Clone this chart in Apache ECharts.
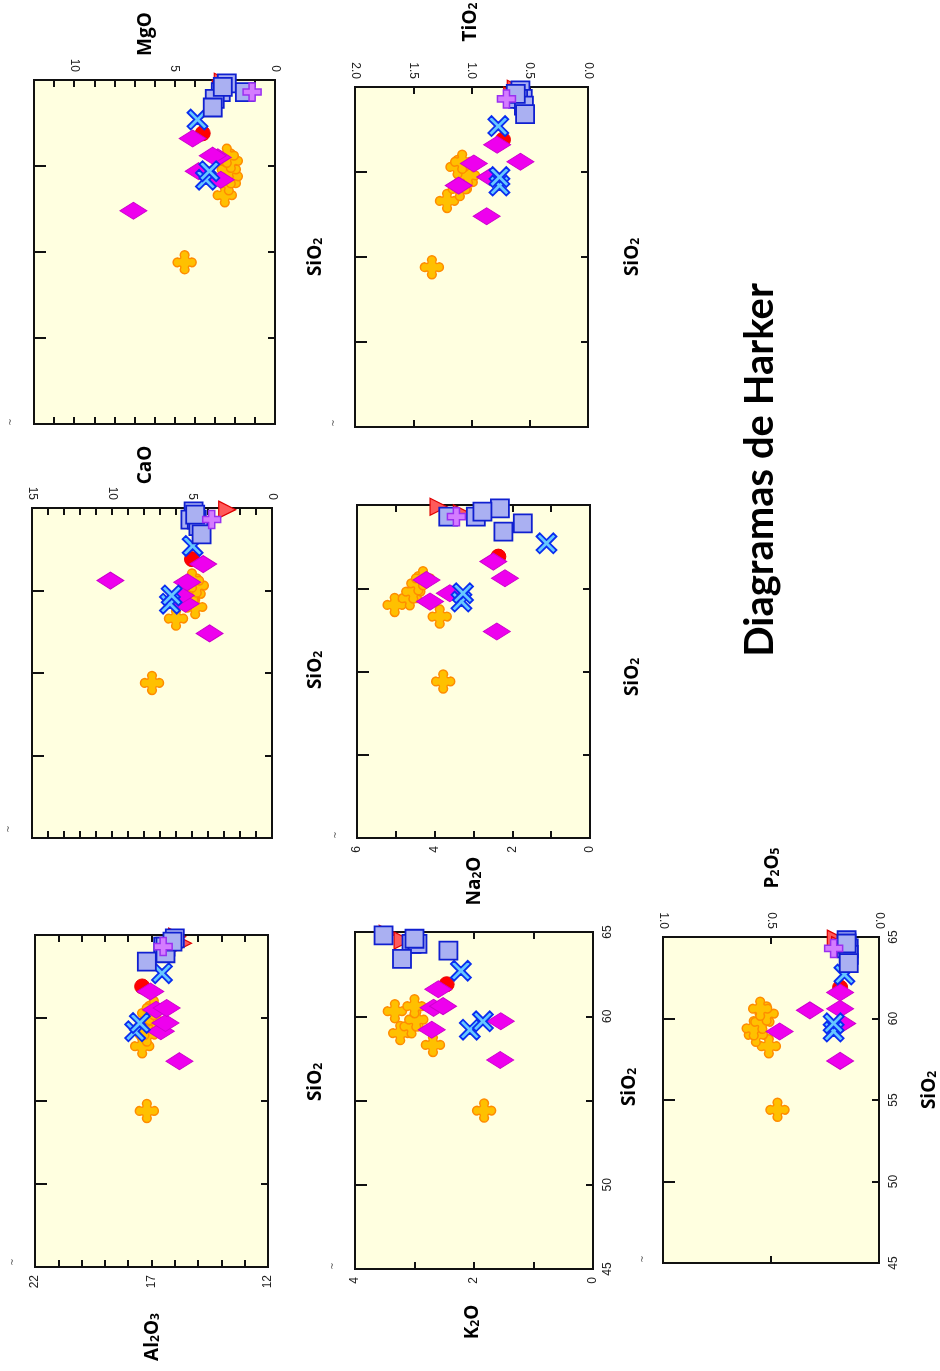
<!DOCTYPE html>
<html>
<head>
<meta charset="utf-8">
<script src="https://cdn.jsdelivr.net/npm/echarts/dist/echarts.min.js"></script>
<style>
  html, body { margin: 0; padding: 0; background: #ffffff; }
  #chart { width: 940px; height: 1371px; }
</style>
</head>
<body>
<div id="chart"></div>
<script>
// ---- Data: whole-rock analyses (wt%) grouped by rock unit ----
const CROSS = {            // orange crosses
  SiO2:  [54.4, 58.3, 59.0, 59.4, 59.8, 60.3, 60.6],
  Al2O3: [17.2, 17.4, 17.2, 17.3, 16.8, 17.1, 16.9],
  K2O:   [1.83, 2.69, 3.24, 3.05, 2.97, 3.33, 3.0],
  CaO:   [7.5, 6.0, 4.8, 5.3, 4.9, 4.7, 5.0],
  Na2O:  [3.78, 3.87, 5.03, 4.64, 4.55, 4.42, 4.3],
  MgO:   [4.5, 2.5, 2.3, 2.2, 2.3, 2.2, 2.4],
  TiO2:  [1.34, 1.21, 1.1, 1.05, 1.03, 1.12, 1.08],
  P2O5:  [0.47, 0.51, 0.57, 0.58, 0.54, 0.52, 0.55]
};
const DIAMOND = {          // magenta diamonds
  SiO2:  [57.4, 59.2, 59.7, 60.5, 60.6, 61.6],
  Al2O3: [15.8, 16.6, 16.4, 16.8, 16.35, 17.05],
  K2O:   [1.56, 2.71, 1.55, 2.68, 2.52, 2.6],
  CaO:   [3.9, 5.4, 5.7, 5.3, 10.1, 4.3],
  Na2O:  [2.4, 4.12, 3.61, 4.21, 2.19, 2.49],
  MgO:   [7.05, 2.7, 3.8, 2.85, 3.1, 4.1],
  TiO2:  [0.87, 1.11, 0.84, 0.98, 0.58, 0.78],
  P2O5:  [0.18, 0.46, 0.17, 0.32, 0.18, 0.18]
};
const XMARK = {            // blue crosses (x)
  SiO2:  [59.2, 59.7, 62.7],
  Al2O3: [17.7, 17.5, 16.55],
  K2O:   [2.07, 1.85, 2.22],
  CaO:   [6.38, 6.27, 4.96],
  Na2O:  [3.31, 3.27, 1.12],
  MgO:   [3.44, 3.27, 3.86],
  TiO2:  [0.76, 0.76, 0.77],
  P2O5:  [0.21, 0.21, 0.16]
};
const CIRCLE = {           // red circle
  SiO2:  [61.9],
  Al2O3: [17.4],
  K2O:   [2.46],
  CaO:   [5.0],
  Na2O:  [2.36],
  MgO:   [3.6],
  TiO2:  [0.73],
  P2O5:  [0.18]
};
const SQUARE = {           // lavender squares
  SiO2:  [64.8, 64.3, 64.3, 63.9, 63.4, 64.6],
  Al2O3: [16.0, 16.5, 16.4, 16.4, 17.2, 16.1],
  K2O:   [3.52, 3.05, 2.95, 2.43, 3.21, 3.0],
  CaO:   [4.9, 5.1, 4.7, 4.6, 4.4, 4.8],
  Na2O:  [2.32, 3.65, 2.94, 1.73, 2.23, 2.77],
  MgO:   [2.4, 2.7, 1.5, 3.0, 3.1, 2.6],
  TiO2:  [0.58, 0.56, 0.6, 0.55, 0.54, 0.62],
  P2O5:  [0.15, 0.14, 0.15, 0.14, 0.14, 0.15]
};
const TRIANGLE = {         // red triangles
  SiO2:  [64.9, 64.5],
  Al2O3: [15.9, 15.65],
  K2O:   [3.45, 3.2],
  CaO:   [2.8, 4.7],
  Na2O:  [3.9, 3.3],
  MgO:   [2.6, 2.7],
  TiO2:  [0.62, 0.65],
  P2O5:  [0.2, 0.18]
};
const PLUS = {             // purple plus
  SiO2:  [64.3],
  Al2O3: [16.5],
  K2O:   [null],
  CaO:   [3.77],
  Na2O:  [3.44],
  MgO:   [1.14],
  TiO2:  [0.70],
  P2O5:  [0.21]
};

// Tick labels shown on each oxide axis and on the SiO2 axis
const TICKS_AL2O3 = [12, 17, 22];
const TICKS_K2O   = [0, 2, 4];
const TICKS_P2O5  = [0, 0.5, 1];
const TICKS_CAO   = [0, 5, 10, 15];
const TICKS_NA2O  = [0, 2, 4, 6];
const TICKS_MGO   = [0, 5, 10];
const TICKS_TIO2  = [0, 0.5, 1, 1.5, 2];
const TICKS_SIO2_K2O  = [45, 50, 60, 65];
const TICKS_SIO2_P2O5 = [45, 50, 55, 60, 65];

// ---- Layout of the seven Harker panels (page is drawn turned on its side) ----
const PANELS = [
  { key: 'Al2O3', sub: ['Al', '2', 'O', '3'], rect: [35, 935, 233, 332], min: 12, max: 22, interval: 1, ticks: TICKS_AL2O3, dec: 0, side: 'bottom', si: null,
    name: [150, 1337], siName: [313, 1082], tilde: [13, 1262] },
  { key: 'K2O', sub: ['K', '2', 'O', ''], rect: [355, 932, 238, 337], min: 0, max: 4, interval: 1, ticks: TICKS_K2O, dec: 0, side: 'bottom', si: TICKS_SIO2_K2O,
    name: [470, 1322], siName: [627, 1087], tilde: [333, 1266] },
  { key: 'P2O5', sub: ['P', '2', 'O', '5'], rect: [663, 937, 216, 326], min: 0, max: 1, interval: 0.5, ticks: TICKS_P2O5, dec: 1, side: 'top', si: TICKS_SIO2_P2O5,
    name: [770, 868], siName: [927, 1090], tilde: [643, 1259] },
  { key: 'CaO', sub: ['CaO', '', '', ''], rect: [32, 508, 240, 330], min: 0, max: 15, interval: 1, ticks: TICKS_CAO, dec: 0, side: 'top', si: null,
    name: [143, 465], siName: [313, 670], tilde: [9, 829] },
  { key: 'Na2O', sub: ['Na', '2', 'O', ''], rect: [357, 505, 233, 333], min: 0, max: 6, interval: 1, ticks: TICKS_NA2O, dec: 0, side: 'bottom', si: null,
    name: [472, 881], siName: [630, 677], tilde: [336, 835] },
  { key: 'MgO', sub: ['MgO', '', '', ''], rect: [34, 80, 241, 344], min: 0, max: 12, interval: 1, ticks: TICKS_MGO, dec: 0, side: 'top', si: null,
    name: [143, 34], siName: [313, 257], tilde: [11, 422] },
  { key: 'TiO2', sub: ['TiO', '2', '', ''], rect: [355, 87, 233, 340], min: 0, max: 2, interval: 0.5, ticks: TICKS_TIO2, dec: 1, side: 'top', si: null,
    name: [468, 22], siName: [630, 257], tilde: [334, 423] }
];

// ---- Marker styles ----
// four-lobed cross with rounded arm ends
const SYM_CROSS = 'path://M31,19A19,19 0 0 1 69,19Q60,40 81,31A19,19 0 0 1 81,69Q60,60 69,81A19,19 0 0 1 31,81Q40,60 19,69A19,19 0 0 1 19,31Q40,40 31,19Z';
const SYM_X = 'path://M0,16L16,0L50,34L84,0L100,16L66,50L100,84L84,100L50,66L16,100L0,84L34,50Z';
const SYM_PLUS = 'path://M33,0H67V33H100V67H67V100H33V67H0V33H33Z';
const SYM_TRI = 'path://M0,0L100,50L0,100Z';

const GROUPS = [
  { d: TRIANGLE, symbol: SYM_TRI, size: [17, 17], color: '#FF5A5A', border: '#E00000', bw: 1.2 },
  { d: CIRCLE,   symbol: 'circle', size: 15, color: '#FF0000', border: '#EE0000', bw: 1 },
  { d: CROSS,    symbol: SYM_CROSS, size: 23, color: '#FFC000', border: '#FF8C00', bw: 1.5 },
  { d: DIAMOND,  symbol: 'diamond', size: [27, 17], color: '#EE00EE', border: '#CC00CC', bw: 1 },
  { d: XMARK,    symbol: SYM_X, size: 20, color: '#66C8FF', border: '#0A2EF0', bw: 1.8 },
  { d: SQUARE,   symbol: 'rect', size: 18, color: '#AAB0F2', border: '#1020D0', bw: 1.8 },
  { d: PLUS,     symbol: SYM_PLUS, size: 18, color: '#D47CFF', border: '#9A30F0', bw: 1.5 }
];

const TICK_FONT = 'Liberation Sans';
const NAME_FONT = 'Open Sans';

const grids = [], xAxes = [], yAxes = [], series = [], graphics = [];

function hasTick(list, v) {
  return list && list.some(t => Math.abs(t - v) < 1e-6);
}

function rotatedName(parts, x, y) {
  const [a, b, c, d] = parts;
  let txt = '{m|' + a + '}';
  if (b) txt += '{s|' + b + '}';
  if (c) txt += '{m|' + c + '}';
  if (d) txt += '{s|' + d + '}';
  return {
    type: 'text', x: x, y: y, rotation: Math.PI / 2, silent: true,
    style: {
      text: txt, align: 'center', verticalAlign: 'middle',
      rich: {
        m: { fontFamily: NAME_FONT, fontWeight: 'bold', fontSize: 19, lineHeight: 24, fill: '#000', verticalAlign: 'bottom' },
        s: { fontFamily: NAME_FONT, fontWeight: 'bold', fontSize: 12, lineHeight: 22, fill: '#000', verticalAlign: 'bottom' }
      }
    }
  };
}

PANELS.forEach((p, i) => {
  grids.push({
    left: p.rect[0], top: p.rect[1], width: p.rect[2], height: p.rect[3],
    show: true, backgroundColor: '#FFFFE0', borderColor: '#111', borderWidth: 2
  });

  ['bottom', 'top'].forEach(side => {
    xAxes.push({
      type: 'value', gridIndex: i, position: side, inverse: true,
      min: p.min, max: p.max, interval: p.interval,
      axisLine: { show: true, onZero: false, lineStyle: { color: '#111', width: 2 } },
      axisTick: { show: true, inside: true, length: 7, lineStyle: { color: '#111', width: 2 } },
      axisLabel: {
        show: side === p.side, rotate: 90, margin: 8, showMinLabel: true, showMaxLabel: true,
        fontFamily: TICK_FONT, fontSize: 12, color: '#222',
        formatter: v => hasTick(p.ticks, v) ? v.toFixed(p.dec) : ''
      },
      splitLine: { show: false }
    });
  });

  ['left', 'right'].forEach(side => {
    yAxes.push({
      type: 'value', gridIndex: i, position: side,
      min: 45, max: 65, interval: 5,
      axisLine: { show: true, onZero: false, lineStyle: { color: '#111', width: 2 } },
      axisTick: { show: true, inside: true, length: side === 'left' ? 12 : 7, lineStyle: { color: '#111', width: 2 } },
      axisLabel: {
        show: side === 'right' && !!p.si, rotate: 90, margin: 9, showMinLabel: true, showMaxLabel: true,
        fontFamily: TICK_FONT, fontSize: 12, color: '#222',
        formatter: v => hasTick(p.si, v) ? String(v) : ''
      },
      splitLine: { show: false }
    });
  });

  GROUPS.forEach(g => {
    const data = g.d.SiO2
      .map((s, k) => [g.d[p.key][k], s])
      .filter(pt => pt[0] !== null && pt[0] !== undefined);
    series.push({
      type: 'scatter', xAxisIndex: 2 * i, yAxisIndex: 2 * i, clip: false,
      symbol: g.symbol, symbolSize: g.size, data: data,
      itemStyle: { color: g.color, borderColor: g.border, borderWidth: g.bw, opacity: 1 },
      emphasis: { disabled: true }, silent: true
    });
  });

  graphics.push(rotatedName(p.sub, p.name[0], p.name[1]));
  graphics.push(rotatedName(['SiO', '2', '', ''], p.siName[0], p.siName[1]));
  graphics.push({
    type: 'text', x: p.tilde[0], y: p.tilde[1], rotation: Math.PI / 2, silent: true,
    style: { text: '~', fontSize: 9, fill: '#555', align: 'center', verticalAlign: 'middle', fontFamily: 'DejaVu Sans' }
  });
});

graphics.push({
  type: 'text', x: 760, y: 470, rotation: Math.PI / 2, silent: true,
  style: {
    text: 'Diagramas de Harker', align: 'center', verticalAlign: 'middle',
    fontFamily: 'Lato', fontWeight: 'bold', fontSize: 40, fill: '#000'
  }
});

const chart = echarts.init(document.getElementById('chart'), null, { renderer: 'canvas' });
chart.setOption({
  animation: false,
  backgroundColor: '#ffffff',
  grid: grids,
  xAxis: xAxes,
  yAxis: yAxes,
  series: series,
  graphic: graphics
});
</script>
</body>
</html>
